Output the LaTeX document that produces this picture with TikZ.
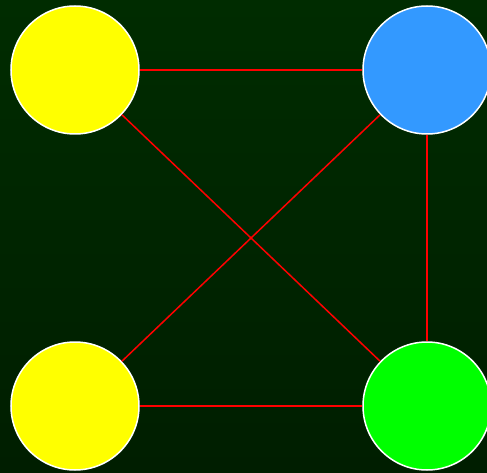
\documentclass[tikz,border=0pt]{standalone}
\usepackage{tikz}
\usepackage{xcolor}
\definecolor{bgtop}{HTML}{002C00}
\definecolor{bgbottom}{HTML}{001E00}
\definecolor{vyellow}{HTML}{FFFF00}
\definecolor{vblue}{HTML}{3399FF}
\definecolor{vgreen}{HTML}{00FF00}
\definecolor{edgered}{HTML}{FF0000}
\tikzset{
  vertex/.style={
    circle, draw=white, line width=1.5pt, minimum size=128pt, inner sep=0pt
  },
  edge/.style={draw=edgered, line width=1.5pt}
}

\begin{document}
\begin{tikzpicture}[x=1pt,y=-1pt]
  \shade[top color=bgtop, bottom color=bgbottom] (0,0) rectangle (487,473);
  \useasboundingbox (0,0) rectangle (487,473);

  \node[vertex, fill=vyellow] (tl) at (75,70) {};
  \node[vertex, fill=vblue] (tr) at (427,70) {};
  \node[vertex, fill=vyellow] (bl) at (75,406) {};
  \node[vertex, fill=vgreen] (br) at (427,406) {};

  \draw[edge] (tl) -- (tr);
  \draw[edge] (tl) -- (br);
  \draw[edge] (tr) -- (bl);
  \draw[edge] (tr) -- (br);
  \draw[edge] (bl) -- (br);
\end{tikzpicture}
\end{document}
